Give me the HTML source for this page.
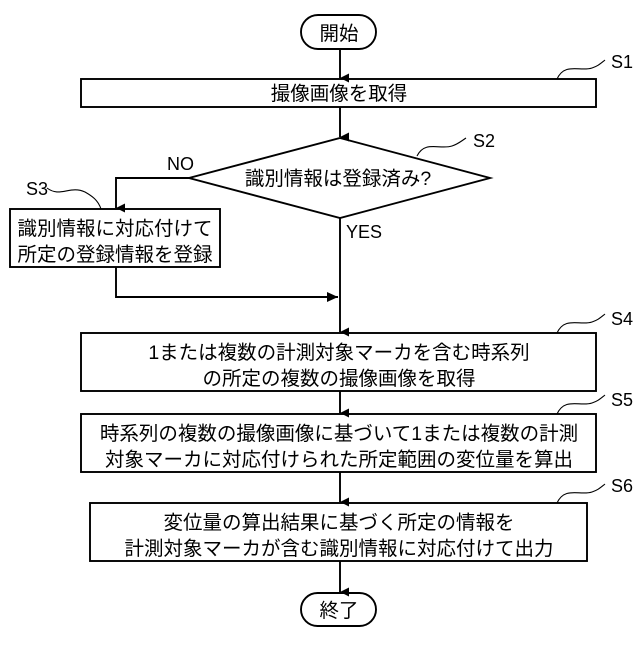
<!DOCTYPE html>
<html><head><meta charset="utf-8"><style>
html,body{margin:0;padding:0;background:#fff}
svg text{font-family:"Liberation Sans","Noto Sans CJK JP",sans-serif;fill:#000}
</style></head><body>
<svg width="640" height="640" viewBox="0 0 640 640" xmlns="http://www.w3.org/2000/svg">
<defs><marker id="a" markerWidth="10" markerHeight="10" refX="5" refY="9" orient="auto" markerUnits="userSpaceOnUse"><path d="M0,0 L10,0 L5,10 Z" transform="translate(0,-1)"/></marker>
<marker id="r" markerWidth="12" markerHeight="10" refX="11" refY="5" orient="0" markerUnits="userSpaceOnUse"><path d="M0,0 L11,5 L0,10 Z"/></marker></defs>
<g fill="none" stroke="#000" stroke-width="1.9">
<rect x="301" y="15" width="75" height="34" rx="17"/>
<rect x="81" y="79" width="515" height="28"/>
<polygon points="340,138 490,178 340,218 189,178"/>
<rect x="10" y="209" width="210" height="58"/>
<rect x="81" y="333" width="515" height="58"/>
<rect x="81" y="414" width="515" height="58"/>
<rect x="90" y="503" width="497" height="58"/>
<rect x="301" y="593" width="75" height="33" rx="16.5"/>
<line x1="340" y1="49" x2="340" y2="78" marker-end="url(#a)"/>
<line x1="340" y1="107" x2="340" y2="137" marker-end="url(#a)"/>
<polyline points="189,178 116,178 116,208" marker-end="url(#a)"/>
<line x1="340" y1="218" x2="340" y2="332" marker-end="url(#a)"/>
<polyline points="116,267 116,297 338,297" marker-end="url(#r)"/>
<line x1="340" y1="391" x2="340" y2="413" marker-end="url(#a)"/>
<line x1="340" y1="472" x2="340" y2="502" marker-end="url(#a)"/>
<line x1="340" y1="561" x2="340" y2="592" marker-end="url(#a)"/>
<g stroke-width="1.1">
<path d="M557,79 C565,62 580,72 592,68 C598,66 600,64 605,60"/>
<path d="M417,156 C425,140 440,150 452,146 C458,144 460,142 466,138"/>
<path d="M47,188 C60,198 70,185 85,192 C92,196 98,200 101,209"/>
<path d="M557,333 C565,316 580,326 592,322 C598,320 600,318 605,314"/>
<path d="M557,414 C565,397 580,407 592,403 C598,401 600,399 605,395"/>
<path d="M557,503 C565,486 580,496 592,492 C598,490 600,488 605,484"/>
</g></g>
<g font-size="19.5" text-anchor="middle">
<text x="339" y="40">開始</text>
<text x="339" y="100">撮像画像を取得</text>
<text x="338" y="185">識別情報は登録済み?</text>
<text x="115" y="235">識別情報に対応付けて</text>
<text x="115" y="261">所定の登録情報を登録</text>
<text x="339" y="359">1または複数の計測対象マーカを含む時系列</text>
<text x="339" y="385">の所定の複数の撮像画像を取得</text>
<text x="339" y="440">時系列の複数の撮像画像に基づいて1または複数の計測</text>
<text x="339" y="466">対象マーカに対応付けられた所定範囲の変位量を算出</text>
<text x="339" y="529">変位量の算出結果に基づく所定の情報を</text>
<text x="339" y="555">計測対象マーカが含む識別情報に対応付けて出力</text>
<text x="339" y="617">終了</text>
</g>
<g font-size="18">
<text x="167" y="170">NO</text>
<text x="346" y="238">YES</text>
<text x="611" y="68">S1</text>
<text x="473" y="147">S2</text>
<text x="26" y="195">S3</text>
<text x="611" y="325">S4</text>
<text x="611" y="406">S5</text>
<text x="611" y="492">S6</text>
</g>
</svg>
</body></html>
